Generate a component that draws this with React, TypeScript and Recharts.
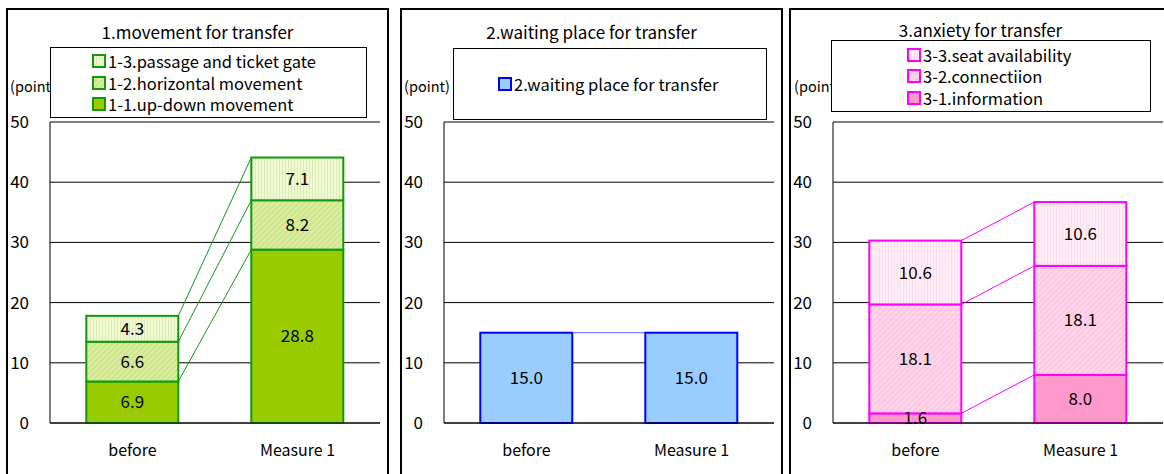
import React from 'react';
import { BarChart, Bar, XAxis, YAxis, CartesianGrid, LabelList, ReferenceLine } from 'recharts';

const categories = ['before', 'Measure 1'];
const yTicks = [0, 10, 20, 30, 40, 50];

// panel 1
const moveKeys = ['1-1.up-down movement', '1-2.horizontal movement', '1-3.passage and ticket gate'];
const upDown = [6.9, 28.8];
const horizontal = [6.6, 8.2];
const passage = [4.3, 7.1];

// panel 2
const waitKeys = ['2.waiting place for transfer'];
const waiting = [15.0, 15.0];

// panel 3
const anxietyKeys = ['3-1.information', '3-2.connectiion', '3-3.seat availability'];
const information = [1.6, 8.0];
const connection = [18.1, 18.1];
const seat = [10.6, 10.6];

const FONT = '"Noto Sans CJK JP", "DejaVu Sans", sans-serif';
const CHART_W = 377;
const CHART_H = 464;
const Y_W = 42;
const PLOT_W = 330;

const buildData = (keys: string[], series: number[][]) =>
  categories.map((name, i) => {
    const row: any = { name };
    keys.forEach((k, j) => (row[k] = series[j][i]));
    return row;
  });

const moveData = buildData(moveKeys, [upDown, horizontal, passage]);
const waitData = buildData(waitKeys, [waiting]);
const anxietyData = buildData(anxietyKeys, [information, connection, seat]);

// bar segment + excel style series line to the next bar
function makeShape(keys: string[], k: number, data: any[], fill: string, stroke: string, lineColor: string) {
  const step = PLOT_W / data.length;
  return (props: any) => {
    const { x, y, width, height, index } = props;
    const row = data[index];
    const lo = keys.slice(0, k).reduce((s, key) => s + row[key], 0);
    const ppu = height / row[keys[k]];
    const base = y + height + lo * ppu;
    let line = null;
    if (index < data.length - 1) {
      const next = data[index + 1];
      const nextTop = keys.slice(0, k + 1).reduce((s, key) => s + next[key], 0);
      line = (
        <line x1={x + width} y1={y} x2={x + step} y2={base - nextTop * ppu} stroke={lineColor} strokeWidth={1} />
      );
    }
    return (
      <g>
        <rect x={x} y={y} width={width} height={height} fill={fill} stroke={stroke} strokeWidth={2} />
        {line}
      </g>
    );
  };
}

interface PanelProps {
  left: number;
  title: string;
  titleTop: number;
  keys: string[];
  data: any[];
  fills: string[];
  stroke: string;
  lineColor: string;
  legendBox: { left: number; top: number; width: number; height: number; pad: number };
  pointLeft: number;
  defs: React.ReactNode;
}

function Panel({ left, title, titleTop, keys, data, fills, stroke, lineColor, legendBox, pointLeft, defs }: PanelProps) {
  return (
    <div
      style={{
        position: 'absolute',
        left,
        top: 8,
        width: 383,
        height: 480,
        border: '2px solid #000',
        boxSizing: 'border-box',
      }}
    >
      <div
        style={{
          position: 'absolute',
          left: 0,
          top: titleTop,
          width: 379,
          textAlign: 'center',
          fontSize: 17,
          lineHeight: '22px',
        }}
      >
        {title}
      </div>
      <div style={{ position: 'absolute', left: pointLeft, top: 67, fontSize: 14.5, lineHeight: '18px' }}>(point)</div>
      <div style={{ position: 'absolute', left: 0, top: 0 }}>
        <BarChart
          width={CHART_W}
          height={CHART_H}
          data={data}
          margin={{ top: 112, right: CHART_W - Y_W - PLOT_W, bottom: 0, left: 0 }}
          barCategoryGap="22%"
        >
          <defs>{defs}</defs>
          <CartesianGrid vertical={false} stroke="#000" />
          <XAxis
            dataKey="name"
            height={51}
            tickLine={false}
            tickSize={0}
            tickMargin={22}
            axisLine={{ stroke: '#000' }}
            tick={{ fill: '#000', fontSize: 16, fontFamily: FONT }}
          />
          <YAxis
            domain={[0, 50]}
            ticks={yTicks}
            interval={0}
            width={Y_W}
            tickLine={false}
            tickSize={0}
            tickMargin={21}
            axisLine={{ stroke: '#000' }}
            tick={{ fill: '#000', fontSize: 17, fontFamily: FONT }}
          />
          <YAxis
            yAxisId="frame"
            orientation="right"
            domain={[0, 50]}
            width={0}
            tick={false}
            tickLine={false}
            axisLine={{ stroke: '#808080' }}
          />
          <ReferenceLine y={50} stroke="#808080" />
          {keys.map((key, k) => (
            <Bar
              key={key}
              dataKey={key}
              stackId="a"
              fill={fills[k]}
              stroke={stroke}
              isAnimationActive={false}
              shape={makeShape(keys, k, data, fills[k], stroke, lineColor)}
            >
              <LabelList
                dataKey={key}
                position="center"
                formatter={(v: any) => Number(v).toFixed(1)}
                fill="#000"
                fontSize={17}
                fontFamily={FONT}
              />
            </Bar>
          ))}
        </BarChart>
      </div>
      <div
        style={{
          position: 'absolute',
          left: legendBox.left,
          top: legendBox.top,
          width: legendBox.width,
          height: legendBox.height,
          border: '1px solid #000',
          background: '#fff',
          boxSizing: 'border-box',
          display: 'flex',
          flexDirection: 'column',
          justifyContent: 'center',
          paddingLeft: legendBox.pad,
        }}
      >
        {keys
          .map((key, k) => (
            <div key={key} style={{ display: 'flex', alignItems: 'center', height: 21.5, fontSize: 16.5 }}>
              <svg width={14} height={14} style={{ marginRight: 2 }}>
                <rect x={1} y={1} width={12} height={12} fill={fills[k]} stroke={stroke} strokeWidth={2} />
              </svg>
              <span>{key}</span>
            </div>
          ))
          .reverse()}
      </div>
    </div>
  );
}

export default function App() {
  const greenDefs = (
    <>
      <pattern id="g3" width={3} height={3} patternUnits="userSpaceOnUse">
        <rect width={3} height={3} fill="#F0F8D8" />
        <line x1={1.5} y1={0} x2={1.5} y2={3} stroke="#DDEDAE" strokeWidth={1} />
      </pattern>
      <pattern id="g2" width={4} height={4} patternUnits="userSpaceOnUse" patternTransform="rotate(45)">
        <rect width={4} height={4} fill="#DCEEA4" />
        <line x1={2} y1={0} x2={2} y2={4} stroke="#C8E37E" strokeWidth={1.5} />
      </pattern>
    </>
  );
  const pinkDefs = (
    <>
      <pattern id="p3" width={3} height={3} patternUnits="userSpaceOnUse">
        <rect width={3} height={3} fill="#FFEEF6" />
        <line x1={1.5} y1={0} x2={1.5} y2={3} stroke="#FFDCEC" strokeWidth={1} />
      </pattern>
      <pattern id="p2" width={4} height={4} patternUnits="userSpaceOnUse" patternTransform="rotate(45)">
        <rect width={4} height={4} fill="#FFD6EA" />
        <line x1={2} y1={0} x2={2} y2={4} stroke="#FFC2DF" strokeWidth={1.5} />
      </pattern>
    </>
  );

  return (
    <div
      style={{
        position: 'absolute',
        left: 0,
        top: 0,
        width: 1164,
        height: 474,
        overflow: 'hidden',
        background: '#fff',
        fontFamily: FONT,
        color: '#000',
      }}
    >
      <Panel
        left={6}
        title="1.movement for transfer"
        titleTop={11}
        keys={moveKeys}
        data={moveData}
        fills={['#99CC00', 'url(#g2)', 'url(#g3)']}
        stroke="#119A11"
        lineColor="#119A11"
        legendBox={{ left: 42, top: 37, width: 317, height: 71, pad: 41 }}
        pointLeft={2}
        defs={greenDefs}
      />
      <Panel
        left={400}
        title="2.waiting place for transfer"
        titleTop={11}
        keys={waitKeys}
        data={waitData}
        fills={['#99CCFF']}
        stroke="#0000FF"
        lineColor="#6666FF"
        legendBox={{ left: 51, top: 38, width: 314, height: 72, pad: 44 }}
        pointLeft={2}
        defs={null}
      />
      <Panel
        left={789}
        title="3.anxiety for transfer"
        titleTop={9}
        keys={anxietyKeys}
        data={anxietyData}
        fills={['#FF99CC', 'url(#p2)', 'url(#p3)']}
        stroke="#FF00FF"
        lineColor="#FF00FF"
        legendBox={{ left: 40, top: 30, width: 320, height: 72, pad: 75 }}
        pointLeft={3}
        defs={pinkDefs}
      />
    </div>
  );
}
